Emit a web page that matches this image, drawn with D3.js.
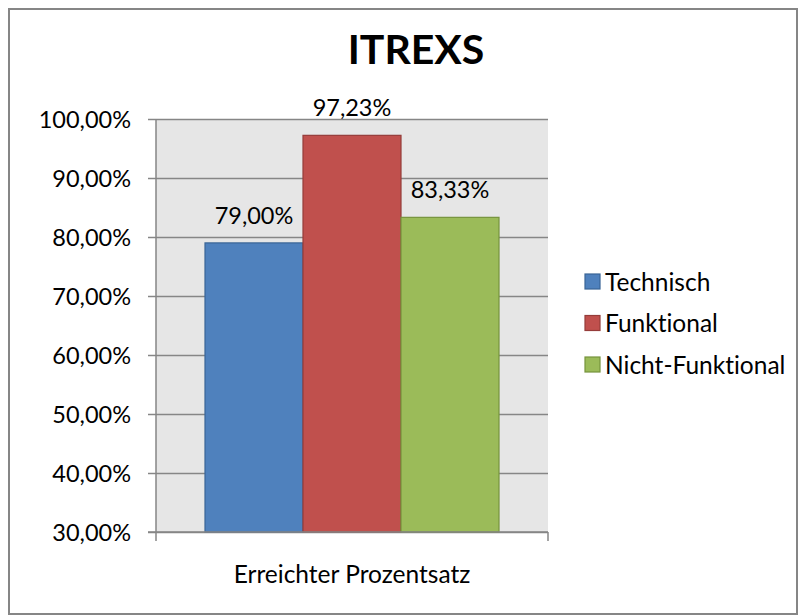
<!DOCTYPE html>
<html>
<head>
<meta charset="utf-8">
<script src="https://cdn.jsdelivr.net/npm/d3@7"></script>
<style>
  body { margin: 0; background: #fff; }
  svg text { font-family: Lato, "Open Sans", sans-serif; fill: #000; font-variant-ligatures: none; }
</style>
</head>
<body>
<div id="chart"></div>
<script>
(function() {
  // ---- data ----
  var chartTitle = "ITREXS";
  var groups = ["Erreichter Prozentsatz"];
  var series = ["Technisch", "Funktional", "Nicht-Funktional"];
  var values = [0.79, 0.9723, 0.8333];
  var yTicks = [0.3, 0.4, 0.5, 0.6, 0.7, 0.8, 0.9, 1.0];
  var fills = ["#4F81BD", "#C0504D", "#9BBB59"];
  var strokes = ["#3A6596", "#953C3A", "#76933C"];

  var W = 798, H = 615;
  var plot = {left: 156, right: 548, top: 119, bottom: 532};

  // german number format, e.g. 79,00%
  var de = d3.formatLocale({decimal: ",", thousands: ".", grouping: [3], currency: ["", " €"]});
  var pct = de.format(".2%");

  var svg = d3.select("#chart").append("svg")
      .attr("width", W).attr("height", H);

  // chart frame
  svg.append("rect")
      .attr("x", 9).attr("y", 9)
      .attr("width", W - 10).attr("height", H - 10)
      .attr("fill", "#fff")
      .attr("stroke", "#868686").attr("stroke-width", 2);

  var y = d3.scaleLinear().domain([0.3, 1.0]).range([plot.bottom, plot.top]);
  var x0 = d3.scaleBand().domain(groups).range([plot.left, plot.right]).padding(0);
  var x1 = d3.scaleBand().domain(series).range([0, x0.bandwidth()])
      .paddingInner(0).paddingOuter(0.5);

  // plot area background
  svg.append("rect")
      .attr("x", plot.left).attr("y", plot.top)
      .attr("width", plot.right - plot.left).attr("height", plot.bottom - plot.top)
      .attr("fill", "#E6E6E6");

  // gridlines + y axis
  var yAxis = d3.axisLeft(y).tickValues(yTicks)
      .tickSize(8).tickPadding(17)
      .tickFormat(pct);
  var gy = svg.append("g")
      .attr("transform", "translate(" + plot.left + ",0)")
      .call(yAxis);
  gy.select(".domain").remove();
  gy.selectAll(".tick line").attr("stroke", "#868686").attr("stroke-width", 1.5);
  gy.selectAll(".tick").append("line")
      .attr("x1", 0).attr("x2", plot.right - plot.left)
      .attr("stroke", "#868686").attr("stroke-width", 1.5);
  gy.selectAll(".tick text")
      .attr("font-size", 23.5).attr("dy", "0.36em").attr("fill", "#000");

  // bars
  svg.append("g").selectAll("rect")
      .data(series)
      .join("rect")
      .attr("x", function(d) { return x0(groups[0]) + x1(d); })
      .attr("y", function(d, i) { return y(values[i]); })
      .attr("width", x1.bandwidth())
      .attr("height", function(d, i) { return y(0.3) - y(values[i]); })
      .attr("fill", function(d, i) { return fills[i]; })
      .attr("stroke", function(d, i) { return strokes[i]; })
      .attr("stroke-width", 1.2);

  // data labels
  svg.append("g").selectAll("text")
      .data(series)
      .join("text")
      .attr("x", function(d) { return x0(groups[0]) + x1(d) + x1.bandwidth() / 2; })
      .attr("y", function(d, i) { return y(values[i]) - 19; })
      .attr("text-anchor", "middle")
      .attr("font-size", 23.5)
      .text(function(d, i) { return pct(values[i]); });

  // y axis line
  svg.append("line")
      .attr("x1", plot.left).attr("x2", plot.left)
      .attr("y1", plot.top).attr("y2", plot.bottom)
      .attr("stroke", "#868686").attr("stroke-width", 1.5);

  // x axis
  var xAxis = d3.axisBottom(x0).tickSize(0).tickPadding(34);
  var gx = svg.append("g")
      .attr("transform", "translate(0," + plot.bottom + ")")
      .call(xAxis);
  gx.select(".domain").remove();
  gx.selectAll(".tick text").attr("font-size", 24.5).attr("fill", "#000");
  gx.append("line")
      .attr("x1", plot.left - 8).attr("x2", plot.right)
      .attr("stroke", "#868686").attr("stroke-width", 1.5);
  gx.selectAll(".edge")
      .data([plot.left, plot.right])
      .join("line")
      .attr("class", "edge")
      .attr("x1", function(d) { return d; }).attr("x2", function(d) { return d; })
      .attr("y1", 0).attr("y2", 9)
      .attr("stroke", "#868686").attr("stroke-width", 1.5);

  // title
  svg.append("text")
      .attr("x", 416).attr("y", 64)
      .attr("text-anchor", "middle")
      .attr("font-size", 41).attr("font-weight", "bold")
      .text(chartTitle);

  // legend
  var legend = svg.append("g").attr("transform", "translate(585,282)");
  var li = legend.selectAll("g")
      .data(series)
      .join("g")
      .attr("transform", function(d, i) { return "translate(0," + (i * 41.5) + ")"; });
  li.append("rect")
      .attr("x", 0).attr("y", -8)
      .attr("width", 15).attr("height", 15)
      .attr("fill", function(d, i) { return fills[i]; })
      .attr("stroke", function(d, i) { return strokes[i]; })
      .attr("stroke-width", 1.2);
  li.append("text")
      .attr("x", 20).attr("dy", "0.36em")
      .attr("font-size", 24.5)
      .text(function(d) { return d; });
}());
</script>
</body>
</html>
